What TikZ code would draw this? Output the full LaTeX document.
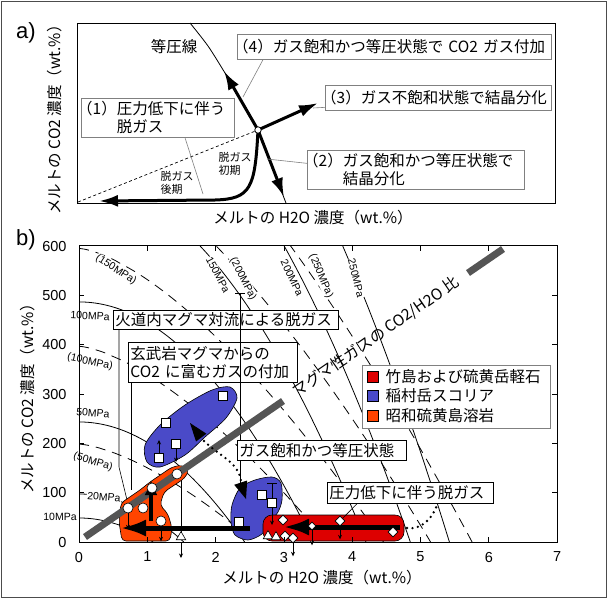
\documentclass[tikz,border=0pt]{standalone}
\usepackage{fontspec}
\setmainfont{Liberation Sans}
\newfontfamily\jpf{Noto Sans CJK JP}
\usetikzlibrary{arrows.meta,shapes.geometric}
\definecolor{redc}{HTML}{DD0000}
\definecolor{bluec}{HTML}{4A4AC8}
\definecolor{orangec}{HTML}{FF4400}
\definecolor{gline}{HTML}{555555}
\definecolor{boxgray}{HTML}{808080}
\begin{document}
\begin{tikzpicture}[x=1pt,y=-1pt,
  jp/.style={font=\jpf\fontsize{15.5}{18}\selectfont},
  jps/.style={font=\jpf\fontsize{11}{13.5}\selectfont},
  boxa/.style={jp, draw=boxgray, fill=white, line width=0.7pt, inner xsep=2pt, inner ysep=1pt, align=left, anchor=north west},
  boxb/.style={jp, draw=black, fill=white, line width=0.7pt, inner xsep=2pt, inner ysep=1pt, align=left, anchor=north west},
  lead/.style={draw=boxgray, line width=0.6pt},
  leadb/.style={draw=black, line width=0.6pt},
  bigarr/.style={line width=3pt, -{Latex[length=19pt,width=12pt]}},
  iso/.style={line width=0.8pt},
  isod/.style={line width=0.8pt, dash pattern=on 10pt off 7pt},
  plab/.style={font=\fontsize{10.5}{12}\selectfont, inner sep=0.6pt, fill=white},
  tickl/.style={font=\fontsize{14.5}{16}\selectfont},
  sqm/.style={draw, fill=white, line width=0.6pt, minimum size=9.5pt, inner sep=0pt},
  cim/.style={circle, draw, fill=white, line width=0.6pt, minimum size=10pt, inner sep=0pt},
  dim/.style={diamond, draw, fill=white, line width=0.6pt, minimum size=10pt, inner sep=0pt},
  trm/.style={regular polygon, regular polygon sides=3, draw, fill=white, line width=0.6pt, minimum size=11pt, inner sep=0pt},
  sarr/.style={line width=0.6pt, -{Stealth[length=4.5pt,width=4pt]}},
  blob/.style={draw=black, line width=0.6pt},
  dots/.style={line width=2.6pt, dash pattern=on 0pt off 5.5pt, line cap=round},
  harr/.style={line width=5pt, -{Latex[length=26pt,width=17pt]}},
]
\fill[white] (0,0) rectangle (609,599);
\useasboundingbox (0,0) rectangle (609,599);
\draw[line width=1pt, black!70] (1.5,1.5) rectangle (606.5,597);

% ================= panel a =================
\node[font=\fontsize{22}{22}\selectfont] (alab) at (26,33) {a)};
\draw[line width=0.8pt] (77,23) rectangle (555,203);
\draw[line width=0.8pt] plot[smooth] coordinates {(190,23) (208,46) (225,73) (242,101) (258,130) (270,160) (281,190) (286,203)};
\coordinate (P) at (258,130);
\coordinate (t4) at (224,71);
\coordinate (t2) at (284,197);
\coordinate (t3) at (318,103);
\coordinate (t1) at (99,201);
\coordinate (aBL) at (78,202);
\draw[dash pattern=on 3pt off 2.5pt, line width=0.7pt] (aBL) -- (P);
\draw[bigarr] (P) -- (t4);
\draw[bigarr] (P) -- (t2);
\draw[bigarr] (P) -- (t3);
\draw[bigarr] (P) .. controls (255,188) and (251,199) .. (215,200) -- (t1);
\node[circle, draw, fill=white, minimum size=6.5pt, inner sep=0pt, line width=0.8pt] (Pn) at (P) {};

\node[jp] (isolab) at (174,47) {等圧線};
\node[jps, align=left] (early) at (235,164) {脱ガス\\初期};
\node[jps, align=left] (late) at (177,183) {脱ガス\\後期};

\node[boxa, text width=310pt, minimum height=25pt] (ba4) at (237,34) {\hspace*{-0.4em}（4）ガス飽和かつ等圧状態で CO2 ガス付加};
\node[boxa, text width=222pt, minimum height=25pt] (ba3) at (325,85) {\hspace*{-0.4em}（3）ガス不飽和状態で結晶分化};
\node[boxa, text width=149pt, minimum height=39pt] (ba1) at (81,98) {\hspace*{-0.4em}（1）圧力低下に伴う\\\hspace*{-0.4em}\phantom{（1）}脱ガス};
\node[boxa, text width=213pt, minimum height=39pt] (ba2) at (307,150) {\hspace*{-0.4em}（2）ガス飽和かつ等圧状態で\\\hspace*{-0.4em}\phantom{（2）}結晶分化};

\coordinate (l4) at (243,97);
\coordinate (l1) at (203,194);
\coordinate (l2) at (267,159);
\coordinate (l3) at (313,108);
\draw[lead] ([xshift=26pt]ba4.south west) -- (l4);
\draw[lead] ([xshift=104pt]ba1.south west) -- (l1);
\draw[lead] ([yshift=6.5pt]ba2.west) -- (l2);
\draw[lead] ([yshift=-9.5pt]ba3.west) -- (l3);

\node[jp] (axa) at (313,218) {メルトの H2O 濃度（wt.\%）};
\node[jp, rotate=90] (aya) at (55,116) {メルトの CO2 濃度（wt.\%）};

% ================= panel b =================
\node[font=\fontsize{22}{22}\selectfont] (blab) at (26,240) {b)};

\begin{scope}
  \clip (79,245.5) rectangle (557,542);
  \foreach \P in {10,20,50,100,150,200,250}{
    \pgfmathsetmacro{\XO}{0.343*sqrt(\P)}
    \pgfmathsetmacro{\YO}{4.87*\P}
    \draw[iso] plot[domain=0:\XO, samples=60, smooth] ({79+68.3*\x},{542-0.493*\YO*(1-(\x/\XO)^2)});
  }
  \foreach \P in {50,100,150,200,250}{
    \pgfmathsetmacro{\XO}{0.364*sqrt(\P)}
    \pgfmathsetmacro{\YO}{3.97*\P}
    \draw[isod] plot[domain=0.001:\XO, samples=60, smooth] ({79+68.3*\x},{542-0.493*\YO*(1-(\x/\XO)^1.5)});
  }
\end{scope}

% isobar labels
\node[plab, rotate=-33] (p150d) at (116,270) {(150MPa)};
\node[plab, rotate=-62] (p150) at (218,275) {150MPa};
\node[plab, rotate=-63] (p200d) at (243,279) {(200MPa)};
\node[plab, rotate=-65] (p200) at (292,278) {200MPa};
\node[plab, rotate=-67] (p250d) at (321,276) {(250MPa)};
\node[plab, rotate=-76] (p250) at (356,278) {250MPa};
\node[plab, rotate=-3] (p100) at (90,316) {100MPa};
\node[plab, rotate=-12] (p100d) at (90,362) {(100MPa)};
\node[plab, rotate=-5] (p50) at (93,413) {50MPa};
\node[plab, rotate=-17] (p50d) at (93,462) {(50MPa)};
\node[plab, rotate=-5] (p20) at (104,497) {20MPa};
\node[plab] (p10) at (60,517) {10MPa};

% annotation boxes and leaders
\node[boxb, text width=221pt, minimum height=19pt] (kb1) at (113,310) {火道内マグマ対流による脱ガス};
\node[boxb, text width=165pt, minimum height=40pt] (kb2) at (128,342) {玄武岩マグマからの\\CO2 に富むガスの付加};
\coordinate (k1a) at (119,467);
\coordinate (k1b) at (127,500);
\coordinate (k2a) at (131,490);
\draw[leadb] ([xshift=6pt]kb1.south west) -- (k1a) -- (k1b);
\draw[leadb] ([xshift=3pt]kb2.south west) -- (k2a);

% error bar at x=240
\coordinate (e1) at (240,293);
\coordinate (e2) at (240,536);
\draw[line width=0.7pt] (235,293) -- (245,293);
\draw[sarr] (e1) -- (e2);
% error bar on triangle
\coordinate (e3) at (181,477);
\coordinate (e4) at (181,533);
\draw[line width=0.6pt] (e3) -- (e4);

% blobs
\draw[blob, fill=bluec] plot[smooth cycle] coordinates {(145,445) (160,425) (185,405) (212,390) (230,387) (237,398) (226,418) (205,437) (185,455) (160,467) (147,462)};
\draw[blob, fill=bluec] plot[smooth cycle] coordinates {(232,505) (240,488) (255,480) (272,477) (281,483) (282,500) (278,512) (270,522) (262,534) (248,540) (235,535) (231,522)};
\draw[blob, fill=orangec, rounded corners=4pt] (121,503) -- (140,490) -- (150,482) -- (172,467) -- (182,465) -- (189,470) -- (185,478) -- (164,492) -- (160,505) -- (168,514) -- (172,528) -- (170,541) -- (122,541) -- (119,522) -- cycle;
\draw[blob, fill=redc, rounded corners=9pt] (263,515) rectangle (404,541);

% magmatic gas line
\coordinate (g0) at (85,537);
\coordinate (g1) at (283,401);
\coordinate (g2) at (468,273);
\coordinate (g3) at (503,249);
\draw[gline, line width=7pt] (g0) -- (g1);
\draw[gline, line width=7pt] (g2) -- (g3);
\node[jp, rotate=34.6] (gastxt) at (376,337) {マグマ性ガスの CO2/H2O 比};

% dotted double arrow (gas saturated, isobaric)
\draw[dots] (204,441) .. controls (222,458) and (238,462) .. (241,481);
\coordinate (ha) at (190,423);
\coordinate (hb) at (206.4,433.7);
\coordinate (hc) at (196,441.5);
\fill (ha) -- (hb) -- (hc) -- cycle;
\coordinate (hd) at (246,499);
\coordinate (he) at (247.2,480.5);
\coordinate (hf) at (234.2,484.8);
\fill (hd) -- (he) -- (hf) -- cycle;
\draw[dots] (407,528) .. controls (420,530) and (432,520) .. (437,505);

% blue 1 markers
\node[sqm] (s1) at (223,396) {};
\node[sqm] (s2) at (166,423) {};
\node[sqm] (s3) at (176,444) {};
\node[sqm] (s4) at (159,458) {};
\draw[sarr] (s4.north) -- ++(0,-13);
\draw[sarr] (s3.south) -- ++(0,13);
% blue 2 markers
\node[sqm] (s5) at (262,495) {};
\node[sqm] (s6) at (272,503) {};
\node[sqm] (s7) at (239,522) {};
\draw[line width=0.7pt] (267,483) -- (277,483);
\draw[line width=0.6pt] (272,483) -- (s6.north);
\draw[sarr] (s6.south) -- ++(0,17);

% orange markers
\draw[harr] (250,528) -- (120,528);
\draw[line width=4pt, -{Latex[length=15pt,width=13pt]}] (151,521) -- (151,480);
\node[cim] (c1) at (177,474) {};
\node[cim] (c2) at (152,488) {};
\node[cim] (c3) at (128,508) {};
\node[cim] (c4) at (143,508) {};
\node[cim] (c5) at (161,521) {};
\draw[sarr] (c3.south) -- ++(0,16);
\draw[sarr] (c5.south) -- ++(0,15);
\node[trm] (tr0) at (181,537) {};
\draw[sarr] (181,543) -- ++(0,15);

% red markers
\draw[harr] (400,527) -- (283,527);
\node[trm] (tr1) at (268,536) {};
\node[trm] (tr2) at (276,537) {};
\node[dim] (d1) at (283,520) {};
\node[dim] (d2) at (285,536) {};
\node[dim] (d3) at (293,538) {};
\node[dim, minimum size=8pt] (d4) at (312,526) {};
\node[dim] (d5) at (340,521) {};
\node[dim] (d6) at (393,532) {};
\draw[sarr] (d3.south) -- ++(0,13);
\draw[sarr] (d4.south) -- ++(0,15);
\draw[sarr] (d5.south) -- ++(0,13);

% more boxes
\node[boxb, text width=165pt, minimum height=20pt] (kb3) at (237,440) {ガス飽和かつ等圧状態};
\node[boxb, text width=162pt, minimum height=21pt] (kb4) at (327,482) {圧力低下に伴う脱ガス};
\draw[leadb] ([xshift=30pt]kb4.south west) -- (d5);

% legend
\node[draw=boxgray, fill=white, line width=0.7pt, anchor=north west, minimum width=188pt, minimum height=63pt, inner sep=0pt] (lg) at (362,365) {};
\node[draw, fill=redc, minimum size=11pt, inner sep=0pt, line width=0.6pt] (lr) at (373,377) {};
\node[draw, fill=bluec, minimum size=11pt, inner sep=0pt, line width=0.6pt] (lb) at (373,396) {};
\node[draw, fill=orangec, minimum size=11pt, inner sep=0pt, line width=0.6pt] (lo) at (373,416) {};
\node[jp, anchor=west] (lrt) at (382,377) {竹島および硫黄岳軽石};
\node[jp, anchor=west] (lbt) at (382,396) {稲村岳スコリア};
\node[jp, anchor=west] (lot) at (382,416) {昭和硫黄島溶岩};

% frame and ticks
\draw[line width=0.9pt] (79,245.5) rectangle (557,542);
\foreach \k in {1,...,6}{
  \draw[line width=0.8pt] ({79+68.3*\k},542) -- ++(0,-5);
  \draw[line width=0.8pt] ({79+68.3*\k},245.5) -- ++(0,5);
}
\foreach \k in {1,...,5}{
  \draw[line width=0.8pt] (79,{542-49.3*\k}) -- ++(5,0);
  \draw[line width=0.8pt] (557,{542-49.3*\k}) -- ++(-5,0);
}
\foreach \k in {0,...,7}{
  \node[tickl] (xt\k) at ({79+68.3*\k},557) {\k};
}
\foreach \k/\v in {0/0,1/100,2/200,3/300,4/400,5/500,6/600}{
  \node[tickl, anchor=east] (yt\k) at (70,{542-49.3*\k}) {\v};
}
\node[jp] (axb) at (322,578) {メルトの H2O 濃度（wt.\%）};
\node[jp, rotate=90] (ayb) at (28,395) {メルトの CO2 濃度（wt.\%）};
\end{tikzpicture}
\end{document}
